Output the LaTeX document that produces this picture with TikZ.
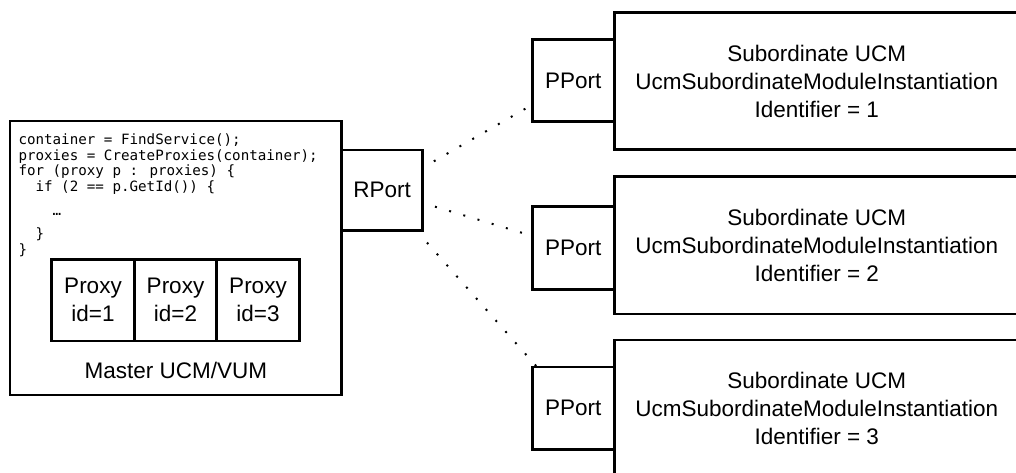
\documentclass[tikz,border=0pt]{standalone}
\usepackage{fontspec}
\setmainfont{Liberation Sans}
\newfontfamily\codefont{DejaVu Sans Mono}
\begin{document}
\begin{tikzpicture}[x=1pt,y=-1pt,
  box/.style={draw=black, line width=2.8pt, rectangle, inner sep=0pt, outer sep=0pt,
              align=center, font=\fontsize{22.5}{28}\selectfont},
  lbl/.style={inner sep=0pt, font=\fontsize{22.5}{28}\selectfont},
  code/.style={anchor=base west, inner sep=0pt, font=\codefont\fontsize{14.2}{15.5}\selectfont},
  link/.style={line width=2pt, dash pattern=on 2pt off 12.8pt, dash phase=2pt}]
\useasboundingbox (0,0) rectangle (1016,472);
\fill[white] (0,0) rectangle (1016,472);
\clip (0,0) rectangle (1016,472);

% master component
\node[box, minimum width=331.7pt, minimum height=274pt] (master) at (175.85,258) {};
\node[lbl] (mlabel) at (175.85,370) {Master UCM/VUM};

% code
\node[code] (c1) at (18.3,144.5) {container = FindService();};
\node[code] (c2) at (18.3,160.1) {proxies = CreateProxies(container);};
\node[code] (c3) at (18.3,175.7) {for (proxy p : proxies) \{};
\node[code] (c4) at (18.3,191.3) {\phantom{xx}if (2 == p.GetId()) \{};
\node[code] (c5) at (18.3,215.5) {\phantom{xxxx}…};
\node[code] (c6) at (18.3,238.5) {\phantom{xx}\}};
\node[code] (c7) at (18.3,254) {\}};

% proxies
\node[box, minimum width=82.6pt, minimum height=81.7pt] (p1) at (93,300.15) {Proxy\\id=1};
\node[box, minimum width=82.4pt, minimum height=81.7pt] (p2) at (175.5,300.15) {Proxy\\id=2};
\node[box, minimum width=82.6pt, minimum height=81.7pt] (p3) at (258,300.15) {Proxy\\id=3};

% RPort
\node[box, minimum width=81pt, minimum height=80.7pt] (rport) at (382.2,190.35) {RPort};

% subordinates
\node[box, minimum width=405pt, minimum height=137.4pt] (s1) at (816.8,81) {Subordinate UCM\\UcmSubordinateModuleInstantiation\\Identifier = 1};
\node[box, minimum width=405pt, minimum height=137.4pt] (s2) at (816.8,245.2) {Subordinate UCM\\UcmSubordinateModuleInstantiation\\Identifier = 2};
\node[box, minimum width=405pt, minimum height=137.4pt] (s3) at (816.8,408.7) {Subordinate UCM\\UcmSubordinateModuleInstantiation\\Identifier = 3};

\node[box, minimum width=82pt, minimum height=82.5pt] (pp1) at (573.3,80.5) {PPort};
\node[box, minimum width=82pt, minimum height=82.5pt] (pp2) at (573.3,248) {PPort};
\node[box, minimum width=82pt, minimum height=82.5pt] (pp3) at (573.3,408.3) {PPort};

% dotted connectors
\draw[link] ([yshift=22.65pt]rport.east) -- ([yshift=-24.2pt]pp1.west);
\draw[link] ([yshift=-12.65pt]rport.east) -- ([yshift=12.1pt]pp2.west);
\draw[link, dash phase=8.3pt] ([yshift=-7pt]rport.south east) -- ([xshift=4.7pt]pp3.north west);
\end{tikzpicture}
\end{document}
